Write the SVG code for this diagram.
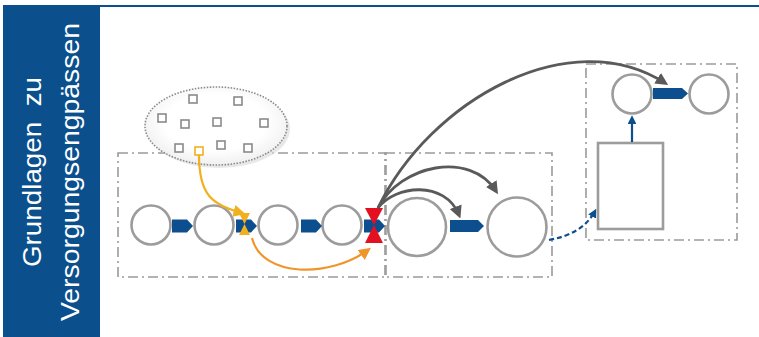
<svg xmlns="http://www.w3.org/2000/svg" width="759" height="337" viewBox="0 0 759 337">
<style>
.ttl{font-family:"Liberation Sans",Arial,sans-serif;font-size:26px;fill:#ffffff}
.box{fill:none;stroke:#9a9a9a;stroke-width:1.6;stroke-dasharray:10 4 2 4}
.c{fill:#ffffff;stroke:#9c9c9c;stroke-width:2.6}
.sq{fill:#ffffff;stroke:#8a8a8a;stroke-width:1.6}
.ba{fill:#0d4e8e}
.gr{fill:none;stroke:#5a5a5a;stroke-width:2.8}
</style>
<defs>
<marker id="mg" viewBox="0 0 10 10" refX="7" refY="5" markerWidth="4.5" markerHeight="4.5" orient="auto" markerUnits="strokeWidth"><path d="M0,0 L10,5 L0,10 z" fill="#5a5a5a"/></marker>
<marker id="my" viewBox="0 0 10 10" refX="7" refY="5" markerWidth="5.5" markerHeight="5.5" orient="auto" markerUnits="strokeWidth"><path d="M0,0 L10,5 L0,10 z" fill="#f2b01e"/></marker>
<marker id="mo" viewBox="0 0 10 10" refX="7" refY="5" markerWidth="5.5" markerHeight="5.5" orient="auto" markerUnits="strokeWidth"><path d="M0,0 L10,5 L0,10 z" fill="#f0952a"/></marker>
<marker id="mb" viewBox="0 0 10 10" refX="7" refY="5" markerWidth="4" markerHeight="4" orient="auto" markerUnits="strokeWidth"><path d="M0,0 L10,5 L0,10 z" fill="#0d4e8e"/></marker>
<radialGradient id="eg" cx="0.5" cy="0.45" r="0.6"><stop offset="0.6" stop-color="#ffffff"/><stop offset="1" stop-color="#ececec"/></radialGradient>
</defs>
<rect width="759" height="337" fill="#ffffff"/>
<g id="title">
<rect x="3" y="6" width="97" height="331" fill="#0b4f8c"/>
<line x1="3" y1="6" x2="759" y2="6" stroke="#0b4f8c" stroke-width="2.2"/>
<text class="ttl" transform="translate(41,172) rotate(-90)" text-anchor="middle" textLength="190" lengthAdjust="spacingAndGlyphs" xml:space="preserve">Grundlagen  zu</text>
<text class="ttl" transform="translate(79,172) rotate(-90)" text-anchor="middle" textLength="298" lengthAdjust="spacingAndGlyphs">Versorgungsengpässen</text>
</g>
<g id="boxes">
<rect class="box" x="118" y="153" width="268" height="124"/>
<rect class="box" x="385" y="153" width="167" height="124"/>
<rect class="box" x="586" y="64" width="151" height="176"/>
</g>
<g id="pool">
<ellipse cx="219" cy="129" rx="71" ry="39" fill="#d8d8d8" opacity="0.6"/>
<ellipse cx="216" cy="126" rx="71" ry="39" fill="url(#eg)" stroke="#8a8a8a" stroke-width="1.6" stroke-dasharray="1.5 1.5"/>
<rect class="sq" x="189" y="95" width="8" height="8"/>
<rect class="sq" x="234" y="97" width="8" height="8"/>
<rect class="sq" x="158" y="114" width="8" height="8"/>
<rect class="sq" x="181" y="120" width="8" height="8"/>
<rect class="sq" x="213" y="118" width="8" height="8"/>
<rect class="sq" x="260" y="119" width="8" height="8"/>
<rect class="sq" x="175" y="144" width="8" height="8"/>
<rect class="sq" x="217" y="141" width="8" height="8"/>
<rect class="sq" x="244" y="144" width="8" height="8"/>
<rect x="195" y="147" width="8" height="8" fill="#ffffff" stroke="#f2b01e" stroke-width="1.6"/>
</g>
<g id="n1"><circle class="c" cx="151" cy="225" r="19.5"/></g>
<g id="n2"><circle class="c" cx="214" cy="225" r="19.5"/></g>
<g id="n3"><circle class="c" cx="278" cy="225" r="19.5"/></g>
<g id="n4"><circle class="c" cx="342" cy="225" r="19.5"/></g>
<g id="n5"><circle class="c" cx="417" cy="227" r="29"/></g>
<g id="n6"><circle class="c" cx="517" cy="227" r="29.5"/></g>
<g id="n7"><circle class="c" cx="632" cy="94" r="19.5"/></g>
<g id="n8"><circle class="c" cx="709" cy="94" r="19.5"/></g>
<g id="n9"><rect x="598" y="143" width="65" height="86" fill="#ffffff" stroke="#9c9c9c" stroke-width="2.6"/></g>
<g id="connectors">
<polygon class="ba" points="172,219.5 187,219.5 193,226 187,232.5 172,232.5"/>
<polygon class="ba" points="236,219.5 251,219.5 257,226 251,232.5 236,232.5"/>
<polygon class="ba" points="301,219.5 316,219.5 322,226 316,232.5 301,232.5"/>
<polygon class="ba" points="364,219.5 379,219.5 385,226 379,232.5 364,232.5"/>
<polygon class="ba" points="450,220 478,220 484,226 478,232 450,232"/>
<polygon class="ba" points="653,88 682,88 688,93.5 682,99 653,99"/>
<polygon fill="#f2b01e" points="239,213 250,213 244.5,224 250,235 239,235 244.5,224"/>
<polygon fill="#e3101f" points="365,208 383,208 374,225 383,243 365,243 374,225"/>
<path class="gr" d="M378,208 C430,100 570,22 665,83" marker-end="url(#mg)"/>
<path class="gr" d="M378,208 C400,165 470,150 496,191" marker-end="url(#mg)"/>
<path class="gr" d="M378,208 C395,185 445,180 459,215" marker-end="url(#mg)"/>
<path d="M199,155 C199,195 212,205 242,213" fill="none" stroke="#f2b01e" stroke-width="2.2" marker-end="url(#my)"/>
<path d="M252,238 C262,278 330,278 368,250" fill="none" stroke="#f0952a" stroke-width="2.2" marker-end="url(#mo)"/>
<path d="M549,240 C570,236 586,228 595,211" fill="none" stroke="#0d4e8e" stroke-width="2.2" stroke-dasharray="5 3" marker-end="url(#mb)"/>
<path d="M632,142 L632,118" fill="none" stroke="#0d4e8e" stroke-width="2.2" marker-end="url(#mb)"/>
</g>
</svg>
